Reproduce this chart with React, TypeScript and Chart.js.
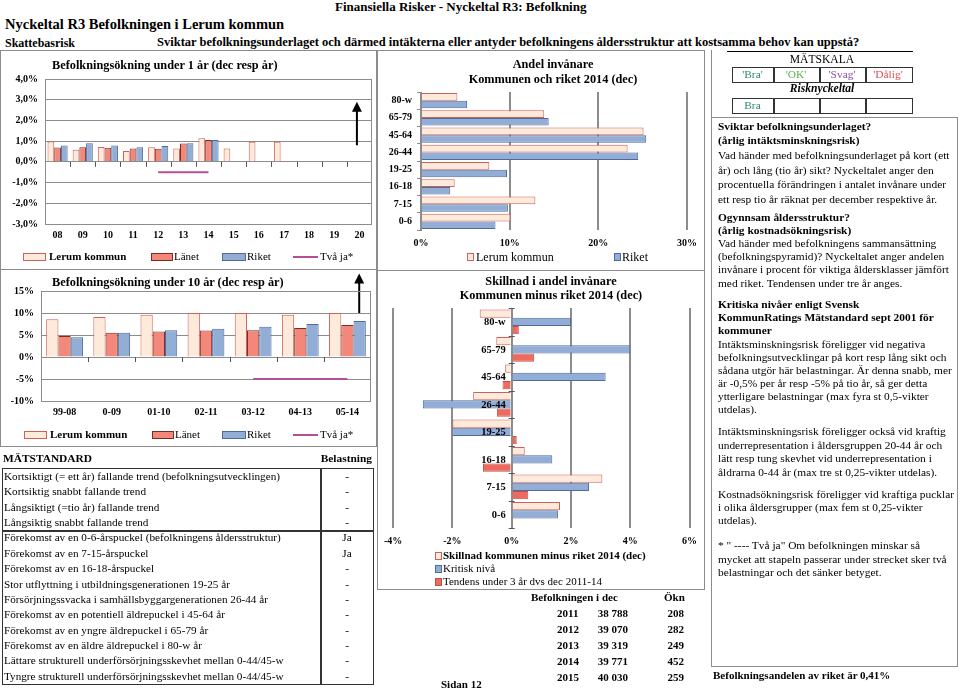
import React, { useEffect, useRef } from "react";
import { Chart, registerables } from "chart.js";
Chart.register(...registerables);

const FONT = '"Liberation Serif", "Times New Roman", Times, serif';
Chart.defaults.font.family = FONT;
Chart.defaults.color = "#000";

// ---------------- DATA ----------------
const YEARS_1 = ["08", "09", "10", "11", "12", "13", "14", "15", "16", "17", "18", "19", "20"];
const LERUM_1 = [0.98, 0.58, 0.72, 0.53, 0.71, 0.64, 1.14, 0.64, 0.97, 0.97, null, null, null];
const LANET_1 = [0.69, 0.71, 0.68, 0.64, 0.63, 0.89, 1.05, null, null, null, null, null, null];
const RIKET_1 = [0.79, 0.9, 0.79, 0.71, 0.76, 0.9, 1.05, null, null, null, null, null, null];
const TVAJA_1 = [null, null, null, null, -0.5, -0.5, -0.5, null, null, null, null, null, null];
const Y_TICKS_1 = ["-3,0%", "-2,0%", "-1,0%", "0,0%", "1,0%", "2,0%", "3,0%", "4,0%"];
const ARROW_1 = { category: "20", from: 0.8, to: 2.9 };

const PERIODS_10 = ["99-08", "0-09", "01-10", "02-11", "03-12", "04-13", "05-14"];
const LERUM_10 = [8.6, 9.1, 9.6, 10.0, 10.0, 9.6, 10.0];
const LANET_10 = [4.8, 5.5, 5.8, 6.0, 6.1, 6.6, 7.3];
const RIKET_10 = [4.5, 5.5, 6.1, 6.4, 6.9, 7.5, 8.2];
const TVAJA_10 = [null, null, null, null, -5, -5, -5];
const Y_TICKS_10 = ["-10%", "-5%", "0%", "5%", "10%", "15%"];
const ARROW_10 = { category: "05-14", from: 10, to: 19 };

const AGE_GROUPS = ["80-w", "65-79", "45-64", "26-44", "19-25", "16-18", "7-15", "0-6"];
const ANDEL_LERUM = [4.1, 13.9, 25.1, 23.3, 7.7, 3.8, 12.9, 10.1];
const ANDEL_RIKET = [5.2, 14.4, 25.4, 24.5, 9.7, 3.3, 9.8, 8.4];
const X_TICKS_ANDEL = ["0%", "10%", "20%", "30%"];

const SKILLNAD = [-1.08, -0.52, -0.22, -1.3, -2.0, 0.44, 3.06, 1.63];
const KRITISK = [2.0, 4.0, 3.17, -3.0, -2.0, 1.37, 2.61, 1.56];
const TENDENS = [0.24, 0.76, -0.31, -0.5, 0.17, -0.97, 0.56, 0.03];
const X_TICKS_SKILLNAD = ["-4%", "-2%", "0%", "2%", "4%", "6%"];

const MATSTANDARD = [
  "Kortsiktigt (= ett år) fallande trend (befolkningsutvecklingen)",
  "Kortsiktig snabbt fallande trend",
  "Långsiktigt (=tio år) fallande trend",
  "Långsiktig snabbt fallande trend",
  "Förekomst av en 0-6-årspuckel (befolkningens åldersstruktur)",
  "Förekomst av en 7-15-årspuckel",
  "Förekomst av en 16-18-årspuckel",
  "Stor utflyttning i utbildningsgenerationen 19-25 år",
  "Försörjningssvacka i samhällsbyggargenerationen 26-44 år",
  "Förekomst av en potentiell äldrepuckel i 45-64 år",
  "Förekomst av en yngre äldrepuckel i 65-79 år",
  "Förekomst av en äldre äldrepuckel i 80-w år",
  "Lättare strukturell underförsörjningsskevhet mellan 0-44/45-w",
  "Tyngre strukturell underförsörjningsskevhet mellan 0-44/45-w",
];
const BELASTNING = ["-", "-", "-", "-", "Ja", "Ja", "-", "-", "-", "-", "-", "-", "-", "-"];

const POP_YEARS = ["2011", "2012", "2013", "2014", "2015"];
const POP_VALUES = ["38 788", "39 070", "39 319", "39 771", "40 030"];
const POP_OKN = ["208", "282", "249", "452", "259"];

const SCALE_LABELS = ["'Bra'", "'OK'", "'Svag'", "'Dålig'"];
const RISK_VALUE = ["Bra", "", "", ""];

const INFO_LINES: [string, boolean][] = [
  ["Sviktar befolkningsunderlaget?", true],
  ["(årlig intäktsminskningsrisk)", true],
  ["Vad händer med befolkningsunderlaget på kort (ett", false],
  ["år) och lång (tio år) sikt? Nyckeltalet anger den", false],
  ["procentuella förändringen i antalet invånare under", false],
  ["ett resp tio år räknat per december respektive år.", false],
  ["Ogynnsam åldersstruktur?", true],
  ["(årlig kostnadsökningsrisk)", true],
  ["Vad händer med befolkningens sammansättning", false],
  ["(befolkningspyramid)? Nyckeltalet anger andelen", false],
  ["invånare i procent för viktiga åldersklasser jämfört", false],
  ["med riket. Tendensen under tre år anges.", false],
  ["Kritiska nivåer enligt Svensk", true],
  ["KommunRatings Mätstandard sept 2001 för", true],
  ["kommuner", true],
  ["Intäktsminskningsrisk föreligger vid negativa", false],
  ["befolkningsutvecklingar på kort resp lång sikt och", false],
  ["sådana utgör här belastningar. Är denna snabb, mer", false],
  ["är -0,5% per år resp -5% på tio år, så ger detta", false],
  ["ytterligare belastningar (max fyra st 0,5-vikter", false],
  ["utdelas).", false],
  ["Intäktsminskningsrisk föreligger också vid kraftig", false],
  ["underrepresentation i åldersgruppen 20-44 år och", false],
  ["lätt resp tung skevhet vid underrepresentation i", false],
  ["åldrarna 0-44 år (max tre st 0,25-vikter utdelas).", false],
  ["Kostnadsökningsrisk föreligger vid kraftiga pucklar", false],
  ["i olika åldersgrupper (max fem st 0,25-vikter", false],
  ["utdelas).", false],
  ["* \" ---- Två ja\"  Om befolkningen minskar så", false],
  ["mycket att stapeln passerar under strecket sker två", false],
  ["belastningar och det sänker betyget.", false],
];
const INFO_Y = [127, 141, 156, 171, 185, 200, 218, 231, 244, 257, 270, 284, 305, 318, 331, 345, 358, 371, 384, 397, 410, 432, 446, 459, 473, 495, 508, 521, 546, 560, 573];

// ---------------- STYLE ----------------
const LERUM_FILL = "#FDEADA";
const LERUM_BORDER = "#D0605A";
const LANET_FILL = "#F2877A";
const LANET_BORDER = "#7B2C26";
const RIKET_FILL = "#93AED6";
const RIKET_BORDER = "#4D6B9B";
const TENDENS_FILL = "#EC6A5E";
const TENDENS_BORDER = "#C0504D";
const TVAJA_COLOR = "#B4509A";
const GRID = "#8C8C8C";

// ---------------- PLUGINS ----------------
const plotBorder = {
  id: "plotBorder",
  afterDraw(chart: any) {
    const { ctx, chartArea: a } = chart;
    ctx.save();
    ctx.strokeStyle = GRID;
    ctx.lineWidth = 1;
    ctx.strokeRect(a.left + 0.5, a.top + 0.5, a.right - a.left - 1, a.bottom - a.top);
    ctx.restore();
  },
};

const zeroTicks = {
  id: "zeroTicks",
  afterDraw(chart: any) {
    const { ctx } = chart;
    const xs = chart.scales.x;
    const y0 = chart.scales.y.getPixelForValue(0);
    const n = xs.getLabels().length;
    ctx.save();
    ctx.strokeStyle = "#555";
    ctx.lineWidth = 1;
    for (let i = 1; i < n; i++) {
      const x = Math.round(xs.getPixelForValue(i - 0.5)) + 0.5;
      ctx.beginPath();
      ctx.moveTo(x, y0);
      ctx.lineTo(x, y0 + 5);
      ctx.stroke();
    }
    ctx.restore();
  },
};

function arrowPlugin(spec: { category: string; from: number; to: number }, shift: number) {
  return {
    id: "arrowAnno",
    afterDatasetsDraw(chart: any) {
      const { ctx } = chart;
      const xs = chart.scales.x;
      const idx = xs.getLabels().indexOf(spec.category);
      const x = xs.getPixelForValue(idx + shift);
      const y1 = chart.scales.y.getPixelForValue(spec.from);
      const y2 = chart.scales.y.getPixelForValue(spec.to);
      ctx.save();
      ctx.strokeStyle = "#000";
      ctx.fillStyle = "#000";
      ctx.lineWidth = 2;
      ctx.beginPath();
      ctx.moveTo(x, y1);
      ctx.lineTo(x, y2 + 8);
      ctx.stroke();
      ctx.beginPath();
      ctx.moveTo(x, y2);
      ctx.lineTo(x - 5, y2 + 10);
      ctx.lineTo(x + 5, y2 + 10);
      ctx.closePath();
      ctx.fill();
      ctx.restore();
    },
  };
}

const zeroCategoryLabels = {
  id: "zeroCategoryLabels",
  afterDatasetsDraw(chart: any) {
    const { ctx } = chart;
    const xs = chart.scales.x;
    const ys = chart.scales.y;
    const x0 = xs.getPixelForValue(0);
    const labels = ys.getLabels();
    ctx.save();
    ctx.strokeStyle = "#555";
    ctx.lineWidth = 1;
    for (let i = 0; i <= labels.length; i++) {
      const y = Math.round(ys.getPixelForValue(i - 0.5)) + 0.5;
      ctx.beginPath();
      ctx.moveTo(x0 - 3, y);
      ctx.lineTo(x0 + 3, y);
      ctx.stroke();
    }
    ctx.font = `bold 10.5px ${FONT}`;
    ctx.fillStyle = "#000";
    ctx.textAlign = "right";
    ctx.textBaseline = "middle";
    labels.forEach((l: string, i: number) => ctx.fillText(l, x0 - 6, ys.getPixelForValue(i) + 1));
    ctx.restore();
  },
};

// ---------------- HELPERS ----------------
const tickFont = { size: 10, weight: "bold" as const, family: FONT };

function ChartBox(props: { left: number; top: number; width: number; height: number; make: () => any }) {
  const ref = useRef<HTMLCanvasElement>(null);
  useEffect(() => {
    const chart = new Chart(ref.current as HTMLCanvasElement, props.make());
    return () => chart.destroy();
  }, []);
  return (
    <div style={{ position: "absolute", left: props.left, top: props.top, width: props.width, height: props.height }}>
      <canvas ref={ref} />
    </div>
  );
}

function Txt(props: {
  x: number;
  y: number;
  size?: number;
  bold?: boolean;
  italic?: boolean;
  color?: string;
  align?: "left" | "center" | "right";
  children: any;
}) {
  const size = props.size ?? 11.4;
  const align = props.align ?? "left";
  const w = 600;
  const left = align === "left" ? props.x : align === "center" ? props.x - w / 2 : props.x - w;
  return (
    <div
      style={{
        position: "absolute",
        left,
        top: props.y - size * 0.62,
        width: w,
        textAlign: align,
        fontSize: size,
        lineHeight: `${size * 1.2}px`,
        fontWeight: props.bold ? "bold" : "normal",
        fontStyle: props.italic ? "italic" : "normal",
        color: props.color ?? "#000",
        whiteSpace: "nowrap",
        pointerEvents: "none",
      }}
    >
      {props.children}
    </div>
  );
}

function Box(props: { x: number; y: number; w: number; h: number; border?: string; bg?: string }) {
  return (
    <div
      style={{
        position: "absolute",
        left: props.x,
        top: props.y,
        width: props.w,
        height: props.h,
        boxSizing: "border-box",
        border: props.border ?? "none",
        background: props.bg ?? "transparent",
      }}
    />
  );
}

function Key(props: { x: number; y: number; w: number; h: number; fill: string; border: string }) {
  return <Box x={props.x} y={props.y - props.h / 2} w={props.w} h={props.h} bg={props.fill} border={`1px solid ${props.border}`} />;
}

function LineKey(props: { x: number; y: number; w: number; color: string }) {
  return <Box x={props.x} y={props.y - 1} w={props.w} h={2} bg={props.color} />;
}

// ---------------- CHART CONFIGS ----------------
function verticalConfig(
  labels: string[],
  lerum: (number | null)[],
  lanet: (number | null)[],
  riket: (number | null)[],
  tvaja: (number | null)[],
  min: number,
  max: number,
  step: number,
  yTicks: string[],
  pad: any,
  axisW: number,
  catPct: number,
  arrow: any
) {
  const barBase = { borderWidth: 1, categoryPercentage: catPct, barPercentage: 1, order: 2 };
  return {
    type: "bar",
    data: {
      labels,
      datasets: [
        { ...barBase, label: "Lerum kommun", data: lerum, backgroundColor: LERUM_FILL, borderColor: LERUM_BORDER },
        { ...barBase, label: "Länet", data: lanet, backgroundColor: LANET_FILL, borderColor: LANET_BORDER },
        { ...barBase, label: "Riket", data: riket, backgroundColor: RIKET_FILL, borderColor: RIKET_BORDER },
        { type: "line", label: "Två ja*", data: tvaja, borderColor: TVAJA_COLOR, borderWidth: 2, pointRadius: 0, order: 0 },
      ],
    },
    options: {
      responsive: true,
      maintainAspectRatio: false,
      animation: false,
      layout: { padding: pad },
      plugins: { legend: { display: false }, title: { display: false }, tooltip: { enabled: false } },
      scales: {
        x: {
          grid: { display: false, drawTicks: false },
          border: { display: false },
          ticks: { font: tickFont, color: "#000", padding: 5, maxRotation: 0, autoSkip: false },
          afterFit: (s: any) => {
            s.height = 20;
          },
        },
        y: {
          min,
          max,
          grid: { color: GRID, drawTicks: false },
          border: { color: "#666" },
          ticks: {
            stepSize: step,
            font: tickFont,
            color: "#000",
            padding: 7,
            callback: (_v: any, i: number) => yTicks[i],
          },
          afterFit: (s: any) => {
            s.width = axisW;
          },
        },
      },
    },
    plugins: [plotBorder, zeroTicks, arrow],
  };
}

const chart1 = () =>
  verticalConfig(YEARS_1, LERUM_1, LANET_1, RIKET_1, TVAJA_1, -3, 4, 1, Y_TICKS_1, { top: 29, left: 0, right: 4, bottom: 25 }, 45, 0.8, arrowPlugin(ARROW_1, -0.1));

const chart2 = () =>
  verticalConfig(PERIODS_10, LERUM_10, LANET_10, RIKET_10, TVAJA_10, -10, 15, 5, Y_TICKS_10, { top: 22, left: 0, right: 5, bottom: 25 }, 41, 0.78, arrowPlugin(ARROW_10, 0.25));

const chart3 = () => ({
  type: "bar",
  data: {
    labels: AGE_GROUPS,
    datasets: [
      { label: "Lerum kommun", data: ANDEL_LERUM, backgroundColor: LERUM_FILL, borderColor: LERUM_BORDER, borderWidth: 1, categoryPercentage: 0.88, barPercentage: 1 },
      { label: "Riket", data: ANDEL_RIKET, backgroundColor: RIKET_FILL, borderColor: RIKET_BORDER, borderWidth: 1, categoryPercentage: 0.88, barPercentage: 1 },
    ],
  },
  options: {
    indexAxis: "y",
    responsive: true,
    maintainAspectRatio: false,
    animation: false,
    layout: { padding: { top: 42, left: 0, right: 12, bottom: 20 } },
    plugins: { legend: { display: false }, tooltip: { enabled: false } },
    scales: {
      x: {
        min: 0,
        max: 30,
        grid: { color: GRID, lineWidth: 2, drawTicks: false },
        border: { display: false },
        ticks: { stepSize: 10, font: tickFont, color: "#000", padding: 7, callback: (_v: any, i: number) => X_TICKS_ANDEL[i] },
        afterFit: (s: any) => {
          s.height = 20;
        },
      },
      y: {
        grid: { display: true, drawOnChartArea: false, drawTicks: true, tickLength: 4, color: GRID },
        border: { color: GRID },
        ticks: { font: tickFont, color: "#000", padding: 5, autoSkip: false },
        afterFit: (s: any) => {
          s.width = 44;
        },
      },
    },
  },
});

const chart4 = () => ({
  type: "bar",
  data: {
    labels: AGE_GROUPS,
    datasets: [
      { label: "Skillnad kommunen minus riket 2014 (dec)", data: SKILLNAD, backgroundColor: LERUM_FILL, borderColor: LERUM_BORDER, borderWidth: 1, categoryPercentage: 0.9, barPercentage: 1 },
      { label: "Kritisk nivå", data: KRITISK, backgroundColor: RIKET_FILL, borderColor: RIKET_BORDER, borderWidth: 1, categoryPercentage: 0.9, barPercentage: 1 },
      { label: "Tendens under 3 år dvs dec 2011-14", data: TENDENS, backgroundColor: TENDENS_FILL, borderColor: TENDENS_BORDER, borderWidth: 1, categoryPercentage: 0.9, barPercentage: 1 },
    ],
  },
  options: {
    indexAxis: "y",
    responsive: true,
    maintainAspectRatio: false,
    animation: false,
    layout: { padding: { top: 38, left: 15, right: 11, bottom: 42 } },
    plugins: { legend: { display: false }, tooltip: { enabled: false } },
    scales: {
      x: {
        min: -4,
        max: 6,
        grid: { color: GRID, lineWidth: 2, drawTicks: false },
        border: { display: false },
        ticks: { stepSize: 2, font: tickFont, color: "#000", padding: 7, callback: (_v: any, i: number) => X_TICKS_SKILLNAD[i] },
        afterFit: (s: any) => {
          s.height = 20;
        },
      },
      y: { display: false },
    },
  },
  plugins: [zeroCategoryLabels],
});

// ---------------- APP ----------------
export default function App() {
  const frame = `1px solid ${GRID}`;
  const dark = "1.5px solid #333";
  const rowH = 15.35;
  const tableTop = 468;
  return (
    <div
      style={{
        position: "absolute",
        left: 0,
        top: 0,
        width: 960,
        height: 690,
        background: "#fff",
        fontFamily: FONT,
        overflow: "hidden",
        color: "#000",
      }}
    >
      {/* Header */}
      <Txt x={335} y={7} size={13} bold>Finansiella Risker - Nyckeltal R3: Befolkning</Txt>
      <Txt x={5} y={25} size={14.5} bold>Nyckeltal R3 Befolkningen i Lerum kommun</Txt>
      <Txt x={5} y={43} size={12} bold>Skattebasrisk</Txt>
      <Txt x={157} y={43} size={12.5} bold>
        Sviktar befolkningsunderlaget och därmed intäkterna eller antyder befolkningens åldersstruktur att kostsamma behov kan uppstå?
      </Txt>

      {/* Frames */}
      <Box x={0} y={50} w={377} h={220} border={frame} />
      <Box x={0} y={269} w={377} h={178} border={frame} />
      <Box x={377} y={50} w={328} h={221} border={frame} />
      <Box x={377} y={270} w={328} h={320} border={frame} />

      {/* Chart 1 */}
      <ChartBox left={0} top={50} width={376} height={219} make={chart1} />
      <Txt x={52} y={66} size={12.3} bold>Befolkningsökning under 1 år (dec resp år)</Txt>
      <Key x={23} y={257} w={23} h={8} fill={LERUM_FILL} border={LERUM_BORDER} />
      <Txt x={49} y={257} size={11} bold>Lerum kommun</Txt>
      <Key x={151} y={257} w={22} h={8} fill={LANET_FILL} border={LANET_BORDER} />
      <Txt x={174} y={257} size={11}>Länet</Txt>
      <Key x={222} y={257} w={24} h={8} fill={RIKET_FILL} border={RIKET_BORDER} />
      <Txt x={247} y={257} size={11}>Riket</Txt>
      <LineKey x={293} y={257} w={25} color={TVAJA_COLOR} />
      <Txt x={320} y={257} size={11}>Två ja*</Txt>

      {/* Chart 2 */}
      <ChartBox left={0} top={269} width={376} height={177} make={chart2} />
      <Txt x={52} y={283} size={12.3} bold>Befolkningsökning under 10 år (dec resp år)</Txt>
      <Key x={24} y={435} w={23} h={8} fill={LERUM_FILL} border={LERUM_BORDER} />
      <Txt x={50} y={435} size={11} bold>Lerum kommun</Txt>
      <Key x={152} y={435} w={22} h={8} fill={LANET_FILL} border={LANET_BORDER} />
      <Txt x={175} y={435} size={11}>Länet</Txt>
      <Key x={222} y={435} w={24} h={8} fill={RIKET_FILL} border={RIKET_BORDER} />
      <Txt x={247} y={435} size={11}>Riket</Txt>
      <LineKey x={293} y={435} w={25} color={TVAJA_COLOR} />
      <Txt x={320} y={435} size={11}>Två ja*</Txt>

      {/* Chart 3 */}
      <ChartBox left={377} top={50} width={327} height={220} make={chart3} />
      <Txt x={553} y={65} size={12.3} bold align="center">Andel invånare</Txt>
      <Txt x={553} y={80} size={12.3} bold align="center">Kommunen och riket 2014 (dec)</Txt>
      <Key x={467} y={257} w={7} h={8} fill={LERUM_FILL} border={LERUM_BORDER} />
      <Txt x={476} y={257} size={12}>Lerum kommun</Txt>
      <Key x={614} y={257} w={7} h={8} fill={RIKET_FILL} border={RIKET_BORDER} />
      <Txt x={622} y={257} size={12}>Riket</Txt>

      {/* Chart 4 */}
      <ChartBox left={377} top={270} width={327} height={320} make={chart4} />
      <Txt x={551} y={282} size={12.3} bold align="center">Skillnad i andel invånare</Txt>
      <Txt x={551} y={296} size={12.3} bold align="center">Kommunen minus riket 2014 (dec)</Txt>
      <Key x={435} y={556} w={7} h={8} fill={LERUM_FILL} border={LERUM_BORDER} />
      <Txt x={443} y={556} size={11} bold>Skillnad kommunen minus riket 2014 (dec)</Txt>
      <Key x={435} y={569} w={7} h={8} fill={RIKET_FILL} border={RIKET_BORDER} />
      <Txt x={443} y={569} size={11}>Kritisk nivå</Txt>
      <Key x={435} y={582} w={7} h={8} fill={TENDENS_FILL} border={TENDENS_BORDER} />
      <Txt x={443} y={582} size={11}>Tendens under 3 år dvs dec 2011-14</Txt>

      {/* Mätskala */}
      <Box x={727} y={51} w={186} h={1} bg="#000" />
      <Box x={711} y={50} w={1} h={68} bg={GRID} />
      <Txt x={822} y={60} size={11.6} align="center">MÄTSKALA</Txt>
      {SCALE_LABELS.map((s, i) => {
        const xs = [732, 773, 819, 865, 911];
        const cols = ["#2E8B6A", "#5FB04A", "#8A4FA8", "#D9505A"];
        return (
          <React.Fragment key={s}>
            <Box x={xs[i]} y={67} w={xs[i + 1] - xs[i] + 1.5} h={16} border={dark} />
            <Txt x={(xs[i] + xs[i + 1]) / 2} y={75} size={11.4} align="center" color={cols[i]}>{s}</Txt>
            <Box x={xs[i]} y={98} w={xs[i + 1] - xs[i] + 1.5} h={16} border={dark} />
            <Txt x={(xs[i] + xs[i + 1]) / 2} y={106} size={11.4} align="center" color={cols[i]}>{RISK_VALUE[i]}</Txt>
          </React.Fragment>
        );
      })}
      <Txt x={822} y={89} size={11.6} bold italic align="center">Risknyckeltal</Txt>

      {/* Info box */}
      <Box x={711} y={117} w={247} h={550} border={frame} />
      {INFO_LINES.map(([t, b], i) => (
        <Txt key={i} x={718} y={INFO_Y[i]} size={11.4} bold={b}>{t}</Txt>
      ))}

      {/* Mätstandard table */}
      <Txt x={3} y={459} size={11.4} bold>MÄTSTANDARD</Txt>
      <Txt x={372} y={459} size={11.4} bold align="right">Belastning</Txt>
      <Box x={2} y={tableTop} w={372} h={rowH * 14 + 2} border={dark} />
      <Box x={320} y={tableTop} w={1.5} h={rowH * 14 + 2} bg="#333" />
      <Box x={2} y={tableTop + rowH * 4 + 1} w={372} h={1.5} bg="#333" />
      {MATSTANDARD.map((t, i) => (
        <React.Fragment key={i}>
          <Txt x={4} y={tableTop + 9 + rowH * i} size={11.2}>{t}</Txt>
          <Txt x={347} y={tableTop + 9 + rowH * i} size={11.2} align="center">{BELASTNING[i]}</Txt>
        </React.Fragment>
      ))}

      {/* Population table */}
      <Txt x={531} y={598} size={11} bold>Befolkningen i dec</Txt>
      <Txt x={664} y={598} size={11} bold>Ökn</Txt>
      {POP_YEARS.map((yr, i) => (
        <React.Fragment key={yr}>
          <Txt x={557} y={614 + i * 16} size={11} bold>{yr}</Txt>
          <Txt x={628} y={614 + i * 16} size={11} bold align="right">{POP_VALUES[i]}</Txt>
          <Txt x={684} y={614 + i * 16} size={11} bold align="right">{POP_OKN[i]}</Txt>
        </React.Fragment>
      ))}
      <Txt x={441} y={685} size={11} bold>Sidan 12</Txt>
      <Txt x={713} y={676} size={11} bold>Befolkningsandelen av riket är 0,41%</Txt>
    </div>
  );
}
